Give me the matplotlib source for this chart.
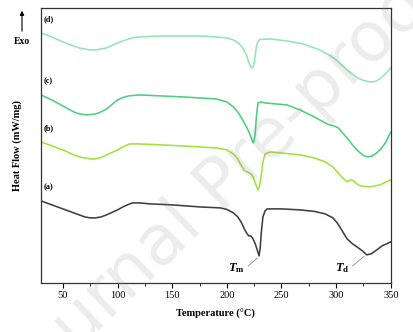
import matplotlib
matplotlib.use("Agg")
import matplotlib.pyplot as plt
from matplotlib.patches import FancyArrowPatch
from matplotlib.ticker import MultipleLocator

plt.rcParams['font.family'] = ['Liberation Serif', 'DejaVu Serif']
plt.rcParams['mathtext.fontset'] = 'custom'
plt.rcParams['mathtext.rm'] = 'Liberation Serif:bold'
plt.rcParams['mathtext.it'] = 'Liberation Serif:bold:italic'

# DSC traces, heat flow in arbitrary offset units
temp_a = [30, 35, 40, 45, 50, 55, 60, 65, 70, 75, 80, 85, 90, 95, 100, 105, 110, 114,
          120, 130, 150, 175, 194, 200, 206, 210, 213, 216, 218, 220, 222, 224, 226,
          227.5, 229.5, 230.5, 231.5, 233, 235, 237, 250, 267, 280, 290, 297, 301,
          305, 310, 315, 319, 324, 328, 332, 336, 342, 350]
flow_a = [82, 80, 78, 76, 74, 72, 70, 68, 66, 65, 65, 66, 68, 70.5, 73, 76, 78.5, 80,
          80, 79, 78, 76, 75, 73.5, 70, 66, 61, 54, 50, 47, 47, 44, 39,
          34, 27, 35, 50, 66, 72, 74, 74, 73, 71.5, 69, 65, 60,
          53, 44, 39, 36, 32, 28, 29, 32, 37, 41]

temp_b = [30, 35, 40, 45, 50, 55, 60, 65, 70, 75, 80, 85, 90, 95, 100, 105, 111,
          120, 140, 160, 175, 190, 200, 206, 210, 213, 216, 219, 222, 224, 226,
          228.5, 230, 231.5, 233, 235, 240, 267, 280, 290, 297, 301, 305, 310,
          313, 316, 320, 325, 331, 340, 345, 350]
flow_b = [141, 139, 137, 135, 133, 130.5, 128, 126, 125, 124, 124, 125.5, 128, 130.5, 133, 136, 139,
          139, 138, 137, 136, 135, 133, 129, 124, 118, 112, 111, 109, 106, 100,
          93, 97, 108, 121, 129, 131, 128, 125, 121, 116, 111, 106, 101,
          103, 102, 98, 96.5, 96, 98, 100.5, 103]

temp_c = [30, 35, 40, 45, 50, 55, 60, 65, 72, 80, 85, 90, 95, 100, 105, 110,
          120, 140, 160, 175, 190, 200, 206, 210, 214, 218, 221, 223, 224, 225, 226,
          227, 228.5, 231, 235, 255, 267, 280, 290, 294, 298, 302, 306,
          310, 315, 319, 322, 326, 329, 333, 337, 341, 345, 350]
flow_c = [188, 185.5, 183, 180, 177, 174, 171, 169, 168, 169, 171, 174, 178.5, 183, 185.5, 187,
          188, 187, 186, 185, 184, 181, 176, 171, 164, 156, 149, 143, 140, 142, 150,
          166, 180, 181, 180, 178, 173, 166, 160, 158, 157, 155, 150,
          145, 138, 133, 130, 127, 126, 127, 130, 134, 140, 151]

temp_d = [30, 35, 40, 45, 50, 55, 60, 65, 70, 75, 80, 85, 90, 95, 100, 105, 110, 115,
          120, 140, 160, 175, 190, 200, 206, 210, 214, 218, 220, 222, 223, 224, 225, 226,
          227, 228, 230, 240, 255, 270, 285, 295, 300, 305, 310, 315, 320, 325,
          331, 336, 340, 345, 350]
flow_d = [250, 248, 246, 243.5, 241, 239, 237, 235, 234, 233, 233, 234, 235, 237.5, 240, 242, 244, 245.5,
          246, 247, 247, 247, 246, 245, 243, 240.5, 236, 228, 221, 216, 215, 216.5, 220, 228,
          236, 240, 243.5, 244, 242, 239, 233, 227, 223, 218, 213, 209, 205, 202.5,
          201, 201.5, 204, 209, 215]

series = [
    ("(a)", temp_a, flow_a, "#404040"),
    ("(b)", temp_b, flow_b, "#a2e23e"),
    ("(c)", temp_c, flow_c, "#4ccf80"),
    ("(d)", temp_d, flow_d, "#92e6b2"),
]

fig = plt.figure(figsize=(4.14, 3.32), dpi=100)
ax = fig.add_axes([0.099, 0.148, 0.845, 0.828])

for name, t, q, color in series:
    ax.plot(t, q, color=color, lw=1.15, solid_joinstyle='round')
    ax.text(32, q[0] + 10, name, fontsize=6, fontweight='bold', va='bottom', ha='left')

# melting and decomposition markers with thin leader lines
ax.text(209, 15, r'$T_\mathrm{m}$', fontsize=9, ha='center', va='center')
ax.plot([219.5, 228], [17, 25], color='#8a8a8a', lw=0.6)
ax.text(306, 15, r'$T_\mathrm{d}$', fontsize=9, ha='center', va='center')
ax.plot([315, 325.5], [17, 26.5], color='#8a8a8a', lw=0.6)

ax.set_xlim(30, 350)
ax.set_ylim(0, 275)
ax.xaxis.set_major_locator(MultipleLocator(50))
ax.xaxis.set_minor_locator(MultipleLocator(25))
ax.tick_params(axis='x', which='major', length=3.5, width=0.8, labelsize=7.5, pad=2)
ax.tick_params(axis='x', which='minor', length=2, width=0.6)
ax.set_yticks([])
for sp in ax.spines.values():
    sp.set_color('#333333')
    sp.set_linewidth(0.9)

ax.set_xlabel('Temperature (\u00b0C)', fontsize=7.5, fontweight='bold', labelpad=7)
ax.set_ylabel('Heat Flow (mW/mg)', fontsize=7.5, fontweight='bold', labelpad=14)

# exotherm direction
fig.text(22 / 414, 1 - 42 / 332, 'Exo', fontsize=7, fontweight='bold',
         ha='center', va='center')
fig.add_artist(FancyArrowPatch(
    (22 / 414, 1 - 34 / 332), (22 / 414, 1 - 8 / 332),
    transform=fig.transFigure, arrowstyle='-|>', mutation_scale=6,
    color='black', lw=0.8))

wm = fig.text(0.55, 0.45, 'Journal Pre-proof', fontsize=50, color='gray', alpha=0.15,
              family='DejaVu Sans', rotation=44, ha='center', va='center')
wm.set_clip_on(True)

fig.savefig('out.png', dpi=100)
